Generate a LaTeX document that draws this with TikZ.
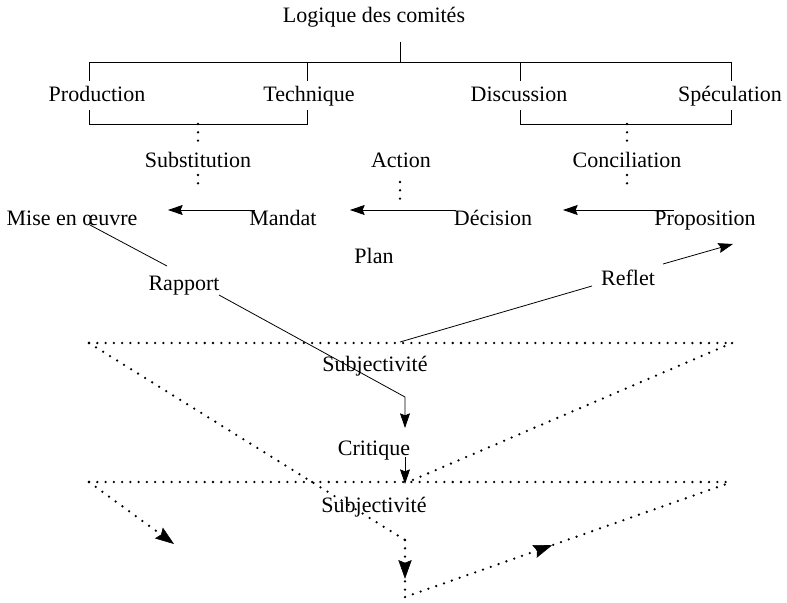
\documentclass[tikz,border=0pt]{standalone}
\usepackage{fontspec}
\setmainfont{Liberation Serif}
\usetikzlibrary{arrows.meta,decorations.markings}
\begin{document}
\begin{tikzpicture}[x=0.75pt,y=-0.75pt,
  lbl/.style={font=\fontsize{16.5}{19}\selectfont, inner sep=1pt, anchor=base},
  thin line/.style={line width=0.6pt},
  dotline/.style={line width=1.9pt, line cap=round, dash pattern=on 0pt off 6.2pt},
  arr/.style={-{Stealth[length=11pt,width=7.5pt,inset=1.5pt]}},
  darr/.style={-{Stealth[length=14pt,width=10pt,inset=2pt,line width=0.4pt]}},
  midarr/.style={postaction={decorate}, decoration={markings,
     mark=at position #1 with {\arrow{Stealth[length=14pt,width=10pt,inset=2pt,line width=0.4pt]}}}},
]
\useasboundingbox (0,0) rectangle (787,602);

% labels
\node[lbl] (logique) at (374,23) {Logique des comités};
\node[lbl] (production) at (97,102) {Production};
\node[lbl] (technique) at (309,102) {Technique};
\node[lbl] (discussion) at (519,102) {Discussion};
\node[lbl] (speculation) at (730,102) {Spéculation};
\node[lbl] (substitution) at (198,168) {Substitution};
\node[lbl] (action) at (401,168) {Action};
\node[lbl] (conciliation) at (627,168) {Conciliation};
\node[lbl] (mise) at (72,225) {Mise en œuvre};
\node[lbl] (mandat) at (283,225) {Mandat};
\node[lbl] (decision) at (493,225) {Décision};
\node[lbl] (proposition) at (705,225) {Proposition};
\node[lbl] (plan) at (374,263) {Plan};
\node[lbl] (rapport) at (184,290) {Rapport};
\node[lbl] (reflet) at (628,285) {Reflet};
\node[lbl] (subj1) at (375,371) {Subjectivité};
\node[lbl] (critique) at (374,455) {Critique};
\node[lbl] (subj2) at (374,512) {Subjectivité};

% bracket coordinates
\coordinate (ltop) at (400,42);
\coordinate (lbar) at (400,62);
\coordinate (a1) at (89,62);   \coordinate (a2) at (89,81);
\coordinate (a3) at (89,110);  \coordinate (a4) at (89,124);
\coordinate (b1) at (307,62);  \coordinate (b2) at (307,81);
\coordinate (b3) at (307,110); \coordinate (b4) at (307,124);
\coordinate (c1) at (520,62);  \coordinate (c2) at (520,81);
\coordinate (c3) at (520,110); \coordinate (c4) at (520,124);
\coordinate (d1) at (731,62);  \coordinate (d2) at (731,81);
\coordinate (d3) at (731,110); \coordinate (d4) at (731,124);

\draw[thin line] (ltop) -- (lbar);
\draw[thin line] (a1) -- (d1);
\draw[thin line] (a1) -- (a2); \draw[thin line] (a3) -- (a4) -- (b4) -- (b3);
\draw[thin line] (b1) -- (b2);
\draw[thin line] (c1) -- (c2); \draw[thin line] (c3) -- (c4) -- (d4) -- (d3);
\draw[thin line] (d1) -- (d2);

% dotted vertical links
\coordinate (s1) at (198,124); \coordinate (s2) at (198,142);
\coordinate (s3) at (198,175); \coordinate (s4) at (198,188);
\coordinate (ac1) at (400,182); \coordinate (ac2) at (400,199);
\coordinate (k1) at (627,124); \coordinate (k2) at (627,142);
\coordinate (k3) at (627,175); \coordinate (k4) at (627,188);
\draw[dotline] (s1) -- (s2);
\draw[dotline] (s3) -- (s4);
\draw[dotline] (ac1) -- (ac2);
\draw[dotline] (k1) -- (k2);
\draw[dotline] (k3) -- (k4);

% horizontal arrows
\coordinate (ma1) at (255,210); \coordinate (ma2) at (168,210);
\coordinate (de1) at (456,210); \coordinate (de2) at (350,210);
\coordinate (pr1) at (674,210); \coordinate (pr2) at (563,210);
\draw[thin line,arr] (ma1) -- (ma2);
\draw[thin line,arr] (de1) -- (de2);
\draw[thin line,arr] (pr1) -- (pr2);

% Rapport line
\coordinate (r0) at (90,225);  \coordinate (r1) at (167,266);
\coordinate (r2) at (219,295); \coordinate (r3) at (405,397);
\coordinate (r4) at (405,428);
\draw[thin line] (r0) -- (r1);
\draw[thin line,arr] (r2) -- (r3) -- (r4);

% Reflet line
\coordinate (f0) at (400,342); \coordinate (f1) at (592,286);
\coordinate (f2) at (663,264); \coordinate (f3) at (733,244);
\draw[thin line] (f0) -- (f1);
\draw[thin line,arr] (f2) -- (f3);

% Critique arrow
\coordinate (cr1) at (405,457); \coordinate (cr2) at (405,484);
\draw[thin line,arr] (cr1) -- (cr2);

% dotted triangles
\coordinate (t1l) at (89,343);  \coordinate (t1r) at (732,343);
\coordinate (t1b) at (408,482);
\coordinate (t2l) at (89,482);  \coordinate (t2r) at (732,482);
\coordinate (p1) at (405,540);  \coordinate (p2) at (405,597);
\coordinate (q1) at (174,544);
\draw[dotline] (t1l) -- (t1r);
\draw[dotline] (t1r) -- (t1b);
\draw[dotline] (t1l) -- (p1);
\draw[dotline, midarr=0.68] (p1) -- (p2);
\draw[dotline, midarr=0.45] (p2) -- (t2r);
\draw[dotline] (t2l) -- (t2r);
\draw[dotline, darr] (t2l) -- (q1);
\end{tikzpicture}
\end{document}
